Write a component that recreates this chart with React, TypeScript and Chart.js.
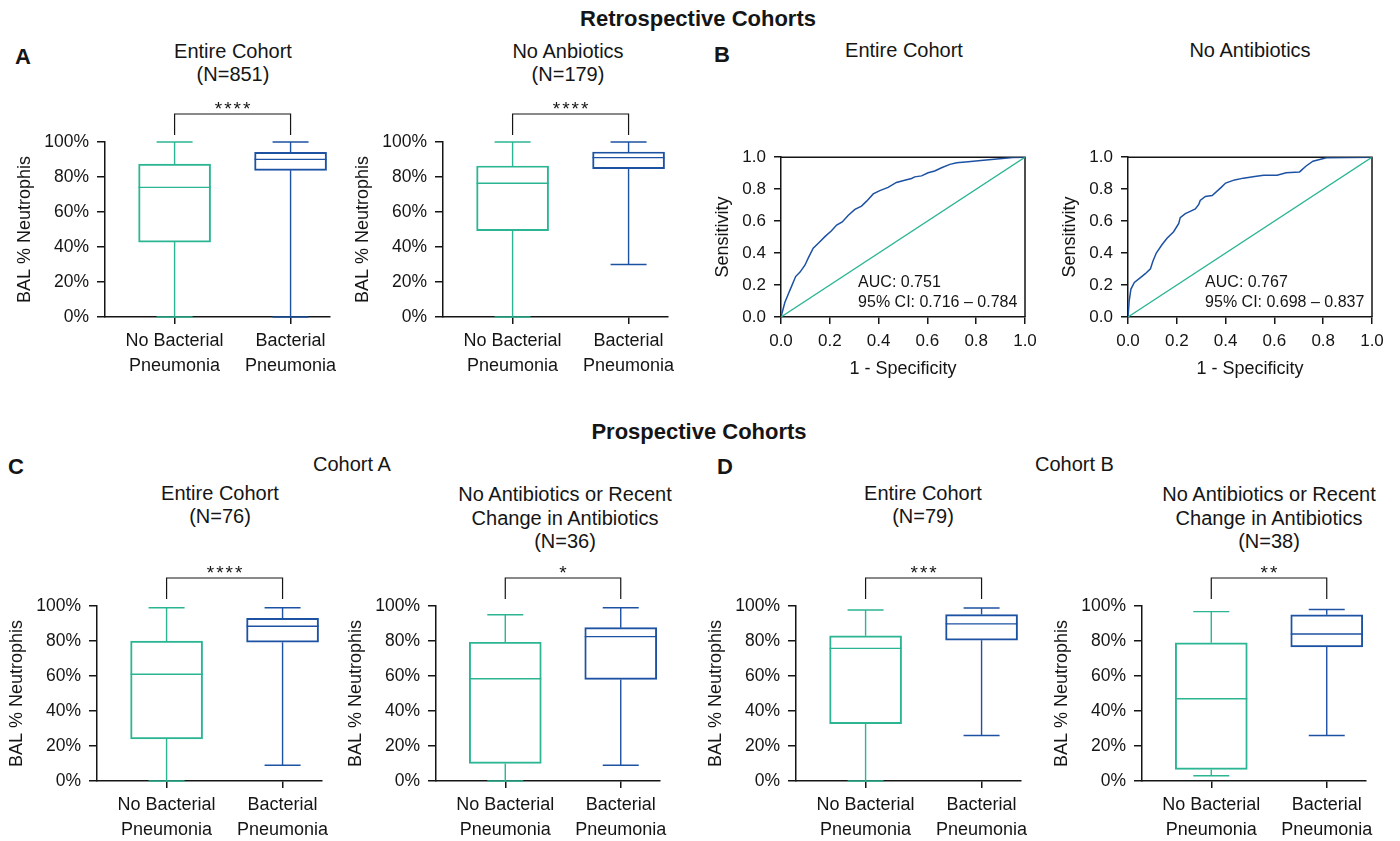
import React, { useEffect, useRef } from "react";
import { Chart, registerables } from "chart.js";

Chart.register(...registerables);

const FONT = "'Liberation Sans', Arial, Helvetica, sans-serif";
const TEAL = "#2BB593";
const BLUE = "#1D52A3";
const INK = "#151515";

// ---------- data ----------
const CATEGORIES = [["No Bacterial", "Pneumonia"], ["Bacterial", "Pneumonia"]];
const PCT_TICKS = [0, 20, 40, 60, 80, 100];
const ROC_TICKS = [0, 0.2, 0.4, 0.6, 0.8, 1];

// box stats: [min, Q1, median, Q3, max]  (% neutrophils)
const A_ENTIRE_NO = [0, 42.8, 74.1, 87.4, 100];
const A_ENTIRE_YES = [0, 83.8, 90.1, 94.1, 100];
const A_NOABX_NO = [0, 49.4, 76.4, 86.3, 100];
const A_NOABX_YES = [30, 84.8, 91.1, 94.3, 100];
const C_ENTIRE_NO = [0, 24, 61, 80, 99];
const C_ENTIRE_YES = [9, 79.3, 88.4, 93, 99];
const C_NOABX_NO = [0, 10, 58.4, 79.3, 95];
const C_NOABX_YES = [9, 58, 82.5, 87.6, 99];
const D_ENTIRE_NO = [0, 32.8, 75.8, 83, 97.7];
const D_ENTIRE_YES = [26, 80.5, 89.8, 95.1, 98.9];
const D_NOABX_NO = [3, 6.6, 47, 79, 96.8];
const D_NOABX_YES = [26, 76.6, 84, 95, 98];

// ROC curves
const ROC1_FPR = [0, 0.016, 0.03, 0.044, 0.06, 0.078, 0.098, 0.112, 0.132, 0.153, 0.18, 0.207, 0.228, 0.251, 0.276, 0.303, 0.33, 0.351, 0.378, 0.405, 0.439, 0.473, 0.507, 0.535, 0.548, 0.576, 0.603, 0.63, 0.658, 0.692, 0.72, 0.767, 0.841, 0.896, 0.95, 1];
const ROC1_TPR = [0, 0.092, 0.144, 0.195, 0.253, 0.281, 0.324, 0.37, 0.431, 0.462, 0.503, 0.54, 0.575, 0.595, 0.637, 0.673, 0.694, 0.725, 0.77, 0.791, 0.811, 0.842, 0.856, 0.867, 0.877, 0.883, 0.903, 0.914, 0.934, 0.955, 0.965, 0.971, 0.982, 0.99, 0.998, 1];
const ROC2_FPR = [0, 0.005, 0.012, 0.026, 0.051, 0.071, 0.092, 0.102, 0.116, 0.139, 0.16, 0.187, 0.208, 0.214, 0.235, 0.255, 0.276, 0.29, 0.296, 0.317, 0.345, 0.382, 0.4, 0.437, 0.473, 0.519, 0.556, 0.611, 0.648, 0.703, 0.73, 0.758, 0.813, 1];
const ROC2_TPR = [0, 0.103, 0.175, 0.216, 0.246, 0.271, 0.302, 0.349, 0.4, 0.452, 0.493, 0.534, 0.585, 0.622, 0.647, 0.661, 0.676, 0.704, 0.729, 0.754, 0.76, 0.811, 0.838, 0.858, 0.869, 0.879, 0.887, 0.887, 0.903, 0.908, 0.945, 0.975, 0.996, 1];
const CHANCE = [0, 1];
const ROC1_TEXT = ["AUC: 0.751", "95% CI: 0.716 \u2013 0.784"];
const ROC2_TEXT = ["AUC: 0.767", "95% CI: 0.698 \u2013 0.837"];

// ---------- plugins ----------
const boxPlugin = {
  id: "boxExtras",
  afterDatasetsDraw(chart: any, _args: any, opts: any) {
    const { ctx, chartArea } = chart;
    const xs = chart.scales.x;
    const ys = chart.scales.y;
    const meta = chart.getDatasetMeta(0);
    const stats: number[][] = opts.stats;
    ctx.save();
    ctx.lineWidth = 1.4;
    stats.forEach((s, i) => {
      const cx = xs.getPixelForValue(i + 1);
      const el = meta.data[i];
      const half = el.width / 2;
      const cap = opts.capHalf;
      const [mn, q1, md, q3, mx] = s.map((v) => ys.getPixelForValue(v));
      ctx.strokeStyle = opts.colors[i];
      ctx.beginPath();
      ctx.moveTo(cx, q3);
      ctx.lineTo(cx, mx);
      ctx.moveTo(cx - cap, mx);
      ctx.lineTo(cx + cap, mx);
      ctx.moveTo(cx, q1);
      ctx.lineTo(cx, mn);
      ctx.moveTo(cx - cap, mn);
      ctx.lineTo(cx + cap, mn);
      ctx.moveTo(cx - half, md);
      ctx.lineTo(cx + half, md);
      ctx.stroke();
    });
    const x1 = xs.getPixelForValue(1);
    const x2 = xs.getPixelForValue(2);
    const yb = chartArea.top - opts.bracketRise;
    const ye = chartArea.top - opts.bracketGap;
    ctx.strokeStyle = INK;
    ctx.lineWidth = 1.2;
    ctx.beginPath();
    ctx.moveTo(x1, ye);
    ctx.lineTo(x1, yb);
    ctx.lineTo(x2, yb);
    ctx.lineTo(x2, ye);
    ctx.stroke();
    ctx.fillStyle = INK;
    ctx.font = `19px ${FONT}`;
    (ctx as any).letterSpacing = "2px";
    const w = ctx.measureText(opts.stars).width - 2;
    ctx.textAlign = "left";
    ctx.textBaseline = "alphabetic";
    ctx.fillText(opts.stars, (x1 + x2) / 2 - w / 2, yb + 1);
    ctx.restore();
  },
};

const rocPlugin = {
  id: "rocExtras",
  beforeDatasetsDraw(chart: any) {
    const { ctx, chartArea: ca } = chart;
    ctx.save();
    ctx.strokeStyle = INK;
    ctx.lineWidth = 1.5;
    ctx.beginPath();
    ctx.moveTo(ca.left, ca.top);
    ctx.lineTo(ca.right, ca.top);
    ctx.lineTo(ca.right, ca.bottom);
    ctx.stroke();
    ctx.restore();
  },
  afterDatasetsDraw(chart: any, _a: any, opts: any) {
    const { ctx } = chart;
    const xs = chart.scales.x;
    const ys = chart.scales.y;
    ctx.save();
    ctx.fillStyle = INK;
    ctx.font = `16px ${FONT}`;
    ctx.textAlign = "left";
    ctx.textBaseline = "middle";
    opts.lines.forEach((t: string, i: number) => {
      ctx.fillText(t, xs.getPixelForValue(opts.x), ys.getPixelForValue(opts.ys[i]));
    });
    ctx.restore();
  },
};

// ---------- geometry ----------
const BOX_YW = 91;
const BOX_XH = 64;
const BOX_PT = 55;
const BOX_PR = 25;
const BOX_PB = 6;

const ROC_YW = 69;
const ROC_XH = 63;
const ROC_PT = 15;
const ROC_PR = 20;
const ROC_PB = 5;

type BoxPanel = { L: number; R: number; T: number; B: number; no: number[]; yes: number[]; stars: string };
type RocPanel = { L: number; R: number; T: number; B: number; fpr: number[]; tpr: number[]; text: string[] };

const axisCommon = {
  border: { display: true, color: INK, width: 1.5 },
};

function BoxChart({ p }: { p: BoxPanel }) {
  const ref = useRef<HTMLCanvasElement>(null);
  const w = p.R - p.L + BOX_YW + BOX_PR;
  const h = p.B - p.T + BOX_PT + BOX_XH + BOX_PB;
  useEffect(() => {
    const stats = [p.no, p.yes];
    const chart = new Chart(ref.current as HTMLCanvasElement, {
      type: "bar",
      data: {
        datasets: [
          {
            data: stats.map((s, i) => ({ x: i + 1, y: [s[1], s[3]] })) as any,
            backgroundColor: "rgba(0,0,0,0)",
            borderColor: [TEAL, BLUE],
            borderWidth: 1.3,
            borderSkipped: false,
            barThickness: 72,
          },
        ],
      },
      options: {
        responsive: false,
        animation: false,
        devicePixelRatio: 1,
        layout: { padding: { top: BOX_PT, right: BOX_PR, bottom: BOX_PB, left: 0 } },
        plugins: {
          legend: { display: false },
          tooltip: { enabled: false },
          boxExtras: {
            stats,
            colors: [TEAL, BLUE],
            capHalf: 18,
            bracketRise: 28,
            bracketGap: 7,
            stars: p.stars,
          },
        } as any,
        scales: {
          x: {
            type: "linear",
            min: 0.4,
            max: 2.34,
            offset: false,
            afterBuildTicks: (s: any) => {
              s.ticks = [1, 2].map((v) => ({ value: v }));
            },
            afterFit: (s: any) => {
              s.height = BOX_XH;
            },
            ...axisCommon,
            grid: { display: true, drawOnChartArea: false, drawTicks: true, tickLength: 7, color: INK, lineWidth: 1.5, offset: false },
            ticks: {
              color: INK,
              padding: 5,
              maxRotation: 0,
              autoSkip: false,
              font: { family: FONT, size: 18, lineHeight: 25 / 18 },
              callback: (v: any) => CATEGORIES[Math.round(Number(v)) - 1] ?? "",
            },
          },
          y: {
            type: "linear",
            min: 0,
            max: 100,
            afterBuildTicks: (s: any) => {
              s.ticks = PCT_TICKS.map((v) => ({ value: v }));
            },
            afterFit: (s: any) => {
              s.width = BOX_YW;
            },
            ...axisCommon,
            grid: { display: true, drawOnChartArea: false, drawTicks: true, tickLength: 8, color: INK, lineWidth: 1.5 },
            ticks: {
              color: INK,
              padding: 8,
              font: { family: FONT, size: 17.5 },
              callback: (v: any) => `${v}%`,
            },
            title: {
              display: true,
              text: "BAL % Neutrophis",
              color: INK,
              padding: 0,
              font: { family: FONT, size: 18 },
            },
          },
        } as any,
      },
      plugins: [boxPlugin as any],
    });
    return () => chart.destroy();
  }, []);
  return (
    <canvas
      ref={ref}
      width={w}
      height={h}
      style={{ position: "absolute", left: p.L - BOX_YW, top: p.T - BOX_PT, width: w, height: h }}
    />
  );
}

function RocChart({ p }: { p: RocPanel }) {
  const ref = useRef<HTMLCanvasElement>(null);
  const w = p.R - p.L + ROC_YW + ROC_PR;
  const h = p.B - p.T + ROC_PT + ROC_XH + ROC_PB;
  useEffect(() => {
    const chart = new Chart(ref.current as HTMLCanvasElement, {
      type: "line",
      data: {
        datasets: [
          {
            data: CHANCE.map((v) => ({ x: v, y: v })),
            borderColor: TEAL,
            borderWidth: 1.3,
            pointRadius: 0,
            tension: 0,
          },
          {
            data: p.fpr.map((x, i) => ({ x, y: p.tpr[i] })),
            borderColor: BLUE,
            borderWidth: 1.5,
            pointRadius: 0,
            tension: 0,
          },
        ],
      },
      options: {
        responsive: false,
        animation: false,
        devicePixelRatio: 1,
        layout: { padding: { top: ROC_PT, right: ROC_PR, bottom: ROC_PB, left: 0 } },
        plugins: {
          legend: { display: false },
          tooltip: { enabled: false },
          rocExtras: { lines: p.text, x: 0.316, ys: [0.2155, 0.092] },
        } as any,
        scales: {
          x: {
            type: "linear",
            min: 0,
            max: 1,
            afterBuildTicks: (s: any) => {
              s.ticks = ROC_TICKS.map((v) => ({ value: v }));
            },
            afterFit: (s: any) => {
              s.height = ROC_XH;
            },
            ...axisCommon,
            grid: { display: true, drawOnChartArea: false, drawTicks: true, tickLength: 7, color: INK, lineWidth: 1.5 },
            ticks: {
              color: INK,
              padding: 7,
              maxRotation: 0,
              autoSkip: false,
              font: { family: FONT, size: 17 },
              callback: (v: any) => Number(v).toFixed(1),
            },
            title: {
              display: true,
              text: "1 - Specificity",
              color: INK,
              padding: 0,
              font: { family: FONT, size: 18 },
            },
          },
          y: {
            type: "linear",
            min: 0,
            max: 1,
            afterBuildTicks: (s: any) => {
              s.ticks = ROC_TICKS.map((v) => ({ value: v }));
            },
            afterFit: (s: any) => {
              s.width = ROC_YW;
            },
            ...axisCommon,
            grid: { display: true, drawOnChartArea: false, drawTicks: true, tickLength: 7, color: INK, lineWidth: 1.5 },
            ticks: {
              color: INK,
              padding: 8,
              font: { family: FONT, size: 17 },
              callback: (v: any) => Number(v).toFixed(1),
            },
            title: {
              display: true,
              text: "Sensitivity",
              color: INK,
              padding: 0,
              font: { family: FONT, size: 18 },
            },
          },
        } as any,
      },
      plugins: [rocPlugin as any],
    });
    return () => chart.destroy();
  }, []);
  return (
    <canvas
      ref={ref}
      width={w}
      height={h}
      style={{ position: "absolute", left: p.L - ROC_YW, top: p.T - ROC_PT, width: w, height: h }}
    />
  );
}

function Txt({
  x,
  y,
  lines,
  size,
  lh,
  bold = false,
  align = "center",
}: {
  x: number;
  y: number;
  lines: string[];
  size: number;
  lh: number;
  bold?: boolean;
  align?: "center" | "left";
}) {
  const style: any = {
    position: "absolute",
    top: y - lh / 2,
    fontFamily: FONT,
    fontSize: size,
    lineHeight: `${lh}px`,
    fontWeight: bold ? 700 : 400,
    color: INK,
    whiteSpace: "nowrap",
  };
  if (align === "center") {
    style.left = x - 300;
    style.width = 600;
    style.textAlign = "center";
  } else {
    style.left = x;
  }
  return (
    <div style={style}>
      {lines.map((l, i) => (
        <div key={i}>{l}</div>
      ))}
    </div>
  );
}

const BOX_PANELS: BoxPanel[] = [
  { L: 105, R: 330, T: 142, B: 317, no: A_ENTIRE_NO, yes: A_ENTIRE_YES, stars: "****" },
  { L: 443, R: 668, T: 142, B: 317, no: A_NOABX_NO, yes: A_NOABX_YES, stars: "****" },
  { L: 97, R: 322, T: 606, B: 781, no: C_ENTIRE_NO, yes: C_ENTIRE_YES, stars: "****" },
  { L: 436, R: 660, T: 606, B: 781, no: C_NOABX_NO, yes: C_NOABX_YES, stars: "*" },
  { L: 796, R: 1021, T: 606, B: 781, no: D_ENTIRE_NO, yes: D_ENTIRE_YES, stars: "***" },
  { L: 1142, R: 1366, T: 606, B: 781, no: D_NOABX_NO, yes: D_NOABX_YES, stars: "**" },
];

const ROC_PANELS: RocPanel[] = [
  { L: 781, R: 1025, T: 154, B: 317, fpr: ROC1_FPR, tpr: ROC1_TPR, text: ROC1_TEXT },
  { L: 1128, R: 1372, T: 154, B: 317, fpr: ROC2_FPR, tpr: ROC2_TPR, text: ROC2_TEXT },
];

export default function App() {
  const TL = 23.3;
  return (
    <div style={{ position: "absolute", left: 0, top: 0, width: 1400, height: 841, background: "#fff", overflow: "hidden" }}>
      <Txt x={698} y={19} lines={["Retrospective Cohorts"]} size={22} lh={26} bold />
      <Txt x={699} y={432} lines={["Prospective Cohorts"]} size={22} lh={26} bold />

      <Txt x={23} y={57} lines={["A"]} size={22} lh={26} bold />
      <Txt x={722} y={55} lines={["B"]} size={22} lh={26} bold />
      <Txt x={16} y={467} lines={["C"]} size={22} lh={26} bold />
      <Txt x={725} y={467} lines={["D"]} size={22} lh={26} bold />

      <Txt x={313} y={464} lines={["Cohort A"]} size={20} lh={24} align="left" />
      <Txt x={1035} y={464} lines={["Cohort B"]} size={20} lh={24} align="left" />

      <Txt x={233} y={51.7} lines={["Entire Cohort", "(N=851)"]} size={20} lh={TL} />
      <Txt x={568} y={51.7} lines={["No Anbiotics", "(N=179)"]} size={20} lh={TL} />
      <Txt x={904} y={50.7} lines={["Entire Cohort"]} size={20} lh={TL} />
      <Txt x={1250} y={50.7} lines={["No Antibiotics"]} size={20} lh={TL} />

      <Txt x={220} y={493.3} lines={["Entire Cohort", "(N=76)"]} size={20} lh={TL} />
      <Txt x={565} y={495} lines={["No Antibiotics or Recent", "Change in Antibiotics", "(N=36)"]} size={20} lh={TL} />
      <Txt x={923} y={493.3} lines={["Entire Cohort", "(N=79)"]} size={20} lh={TL} />
      <Txt x={1269} y={495} lines={["No Antibiotics or Recent", "Change in Antibiotics", "(N=38)"]} size={20} lh={TL} />

      {BOX_PANELS.map((p, i) => (
        <BoxChart key={`b${i}`} p={p} />
      ))}
      {ROC_PANELS.map((p, i) => (
        <RocChart key={`r${i}`} p={p} />
      ))}
    </div>
  );
}
